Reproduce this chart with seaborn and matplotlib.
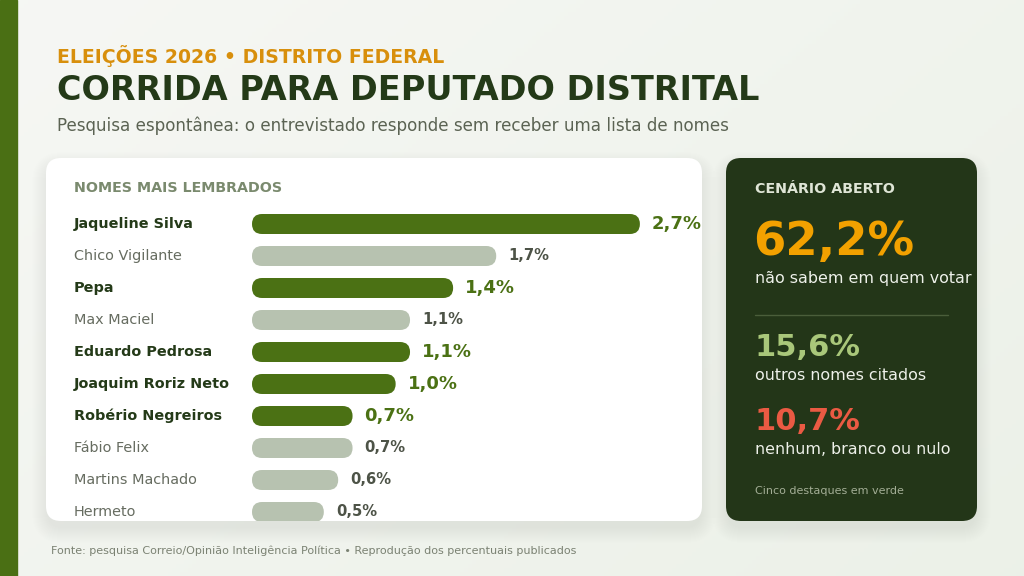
import numpy as np
import pandas as pd
import matplotlib
matplotlib.use("Agg")
import matplotlib.pyplot as plt
import seaborn as sns
from matplotlib.patches import FancyBboxPatch, Rectangle

# ---------------- data ----------------
nomes = ["Jaqueline Silva", "Chico Vigilante", "Pepa", "Max Maciel", "Eduardo Pedrosa",
         "Joaquim Roriz Neto", "Robério Negreiros", "Fábio Felix", "Martins Machado", "Hermeto"]
valores = [2.7, 1.7, 1.4, 1.1, 1.1, 1.0, 0.7, 0.7, 0.6, 0.5]
rotulos = ["2,7%", "1,7%", "1,4%", "1,1%", "1,1%", "1,0%", "0,7%", "0,7%", "0,6%", "0,5%"]
destaque = [True, False, True, False, True, True, True, False, False, False]

overline = "ELEIÇÕES 2026 • DISTRITO FEDERAL"
titulo = "CORRIDA PARA DEPUTADO DISTRITAL"
subtitulo = "Pesquisa espontânea: o entrevistado responde sem receber uma lista de nomes"
card_titulo = "NOMES MAIS LEMBRADOS"
painel_titulo = "CENÁRIO ABERTO"
kpi_valores = ["62,2%", "15,6%", "10,7%"]
kpi_textos = ["não sabem em quem votar", "outros nomes citados", "nenhum, branco ou nulo"]
nota = "Cinco destaques em verde"
fonte = "Fonte: pesquisa Correio/Opinião Inteligência Política • Reprodução dos percentuais publicados"

# ---------------- style ----------------
sns.set_theme(style="white")
plt.rcParams["font.family"] = ["DejaVu Sans"]

W, H = 1024, 576
fig = plt.figure(figsize=(W / 100, H / 100), dpi=100)

# background axes in pixel coordinates (y from top)
bg = fig.add_axes([0, 0, 1, 1])
bg.set_xlim(0, W)
bg.set_ylim(H, 0)
bg.axis("off")

# gradient background
gx = np.linspace(0, 1, 256)
gy = np.linspace(0, 1, 144)
GX, GY = np.meshgrid(gx, gy)
t = (GX * 0.6 + GY * 0.4)
c0 = np.array([0.965, 0.969, 0.957])
c1 = np.array([0.925, 0.945, 0.910])
img = c0[None, None, :] * (1 - t[..., None]) + c1[None, None, :] * t[..., None]
bg.imshow(img, extent=[0, W, H, 0], aspect="auto", zorder=0)

# left accent stripe
bg.add_patch(Rectangle((0, 0), 17, H, color="#4a6f14", zorder=1))

def card(x0, y0, x1, y1, color, r=15, z=2):
    # soft diffuse shadow
    for k in range(2, 34, 2):
        bg.add_patch(FancyBboxPatch((x0 - k / 2 + 2, y0 + 10 - k / 2), (x1 - x0) + k - 4, (y1 - y0) + k - 4,
                                    boxstyle=f"round,pad=0,rounding_size={r + k / 2}",
                                    facecolor="#56743a", edgecolor="none", alpha=0.0045, zorder=z - 0.5))
    p = FancyBboxPatch((x0, y0), x1 - x0, y1 - y0, boxstyle=f"round,pad=0,rounding_size={r}",
                       facecolor=color, edgecolor="none", zorder=z)
    bg.add_patch(p)
    return p

card_left = card(46, 158, 702, 521, "white")
card(726, 158, 977, 521, "#233618")

# header texts
bg.text(57, 56.5, overline, color="#d88f0c", fontsize=13.6, fontweight="bold", va="center", ha="left", zorder=5)
bg.text(57, 90, titulo, color="#243a18", fontsize=24.1, fontweight="bold", va="center", ha="left", zorder=5)
bg.text(57, 126, subtitulo, color="#5b6353", fontsize=12.1, va="center", ha="left", zorder=5)

bg.text(74, 188, card_titulo, color="#7a8a6e", fontsize=10.3, fontweight="bold",
        va="center", ha="left", zorder=5)

# right panel
bg.text(755, 189, painel_titulo, color="#dfe5d6", fontsize=10.3, fontweight="bold", va="center", ha="left", zorder=5)
bg.text(753, 243, kpi_valores[0], color="#f2a100", fontsize=33.5, fontweight="bold", va="center", ha="left", zorder=5)
bg.text(755, 278, kpi_textos[0], color="#eef1ea", fontsize=11.4, va="center", ha="left", zorder=5)
bg.plot([755, 948], [315, 315], color="#4a5e3a", lw=1, zorder=5)
bg.text(754, 348, kpi_valores[1], color="#a9c77a", fontsize=22, fontweight="bold", va="center", ha="left", zorder=5)
bg.text(755, 376, kpi_textos[1], color="#eef1ea", fontsize=11.4, va="center", ha="left", zorder=5)
bg.text(754, 421, kpi_valores[2], color="#ea5a43", fontsize=22, fontweight="bold", va="center", ha="left", zorder=5)
bg.text(755, 449, kpi_textos[2], color="#eef1ea", fontsize=11.4, va="center", ha="left", zorder=5)
bg.text(755, 491, nota, color="#a3ae96", fontsize=8.0, va="center", ha="left", zorder=5)

# footer
bg.text(51, 551, fonte, color="#7b8273", fontsize=8.0, va="center", ha="left", zorder=5)

# ---------------- bars ----------------
ax_left_px, ax_w_px = 252, 431
ax_top_px, ax_h_px = 208, 320
ax = fig.add_axes([ax_left_px / W, 1 - (ax_top_px + ax_h_px) / H, ax_w_px / W, ax_h_px / H])
ax.set_zorder(3)
ax.patch.set_visible(False)

df = pd.DataFrame({"nome": nomes, "valor": valores,
                   "grupo": ["d" if d else "n" for d in destaque]})
verde, cinza = "#4b7114", "#b7c2b0"
sns.barplot(data=df, x="valor", y="nome", hue="grupo", palette={"d": verde, "n": cinza},
            dodge=False, legend=False, width=0.625, saturation=1, ax=ax, order=nomes)
ax.set_xlim(0, 3.0)
ax.set_ylim(len(nomes) - 0.5, -0.5)
ax.axis("off")

xu_per_px = 3.0 / ax_w_px
yu_per_px = len(nomes) / ax_h_px
aspect = yu_per_px / xu_per_px
r = 10 * xu_per_px
patches = list(ax.patches)
for p in patches:
    x, y, w, h = p.get_x(), p.get_y(), p.get_width(), p.get_height()
    if w <= 0:
        p.remove()
        continue
    fb = FancyBboxPatch((x, y), w, h, boxstyle=f"round,pad=0,rounding_size={r}",
                        mutation_aspect=aspect, facecolor=p.get_facecolor(), edgecolor="none")
    p.remove()
    ax.add_patch(fb)
    fb.set_clip_path(card_left)

for i, (n, v, lab, d) in enumerate(zip(nomes, valores, rotulos, destaque)):
    ax.annotate(n, xy=(74, i), xycoords=("figure pixels", "data"),
                va="center", ha="left", fontsize=10.4,
                fontweight="bold" if d else "normal", color="#243a18" if d else "#666c60",
                annotation_clip=False)
    ax.annotate(lab, xy=(v, i), xycoords="data", xytext=(12, 0), textcoords="offset pixels",
                va="center", ha="left", fontsize=13 if d else 10.6, fontweight="bold",
                color=verde if d else "#4d5347", annotation_clip=False)

fig.savefig("out.png", dpi=100)
